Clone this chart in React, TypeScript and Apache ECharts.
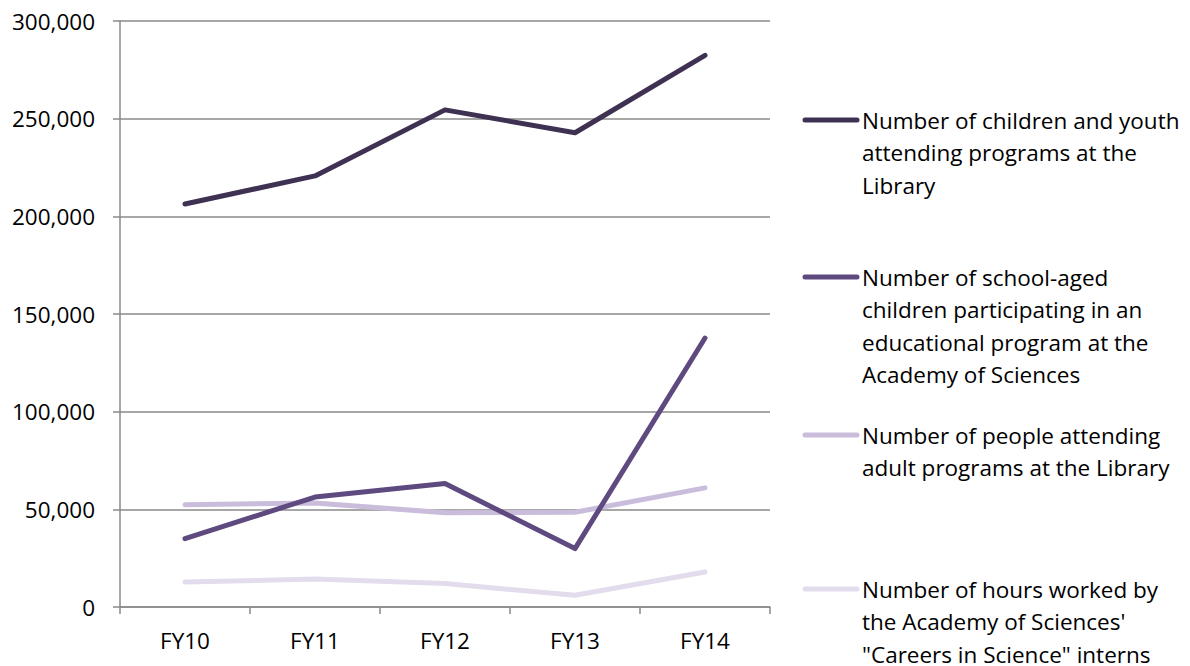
import React, { useEffect, useRef } from "react";
import * as echarts from "echarts";

const categories = ["FY10", "FY11", "FY12", "FY13", "FY14"];
const seriesNames = [
  "Number of children and youth\nattending programs at the\nLibrary",
  "Number of school-aged\nchildren participating in an\neducational program at the\nAcademy of Sciences",
  "Number of people attending\nadult programs at the Library",
  "Number of hours worked by\nthe Academy of Sciences'\n\"Careers in Science\" interns",
];
const childrenYouthLibrary = [206300, 220700, 254500, 242800, 282400];
const schoolAgedAcademy = [35000, 56300, 63200, 29900, 137700];
const adultLibrary = [52400, 53200, 48300, 48500, 61000];
const internHours = [12800, 14300, 12000, 6000, 17900];
const seriesValues = [childrenYouthLibrary, schoolAgedAcademy, adultLibrary, internHours];
const colors = ["#3f3152", "#5f4a80", "#c9bddb", "#e3dcec"];
const legendY = [120, 277, 435, 589];

const FONT = "'Open Sans', sans-serif";
const FS = 22.5;
const LH = 32.5;

export default function App() {
  const ref = useRef<HTMLDivElement>(null);
  useEffect(() => {
    if (!ref.current) return;
    const chart = echarts.init(ref.current, null, { renderer: "svg" });
    const graphic: any[] = [];
    seriesNames.forEach((name, i) => {
      graphic.push({
        type: "line",
        shape: { x1: 805, y1: legendY[i], x2: 857, y2: legendY[i] },
        style: { stroke: colors[i], lineWidth: 5, lineCap: "round" },
      });
      name.split("\n").forEach((line, j) => {
        graphic.push({
          type: "text",
          x: 862,
          y: legendY[i] + j * LH,
          style: {
            text: line,
            font: `${FS}px ${FONT}`,
            fill: "#000",
            textVerticalAlign: "middle",
          },
        });
      });
    });
    chart.setOption({
      animation: false,
      grid: { left: 120, right: 420, top: 21, bottom: 59, containLabel: false },
      xAxis: {
        type: "category",
        data: categories,
        boundaryGap: true,
        axisLine: { lineStyle: { color: "#8a8a8a", width: 1.5 } },
        axisTick: { show: true, length: 7, alignWithLabel: false, lineStyle: { color: "#8a8a8a", width: 1.5 } },
        axisLabel: { color: "#000", fontSize: FS, fontFamily: FONT, margin: 22 },
      },
      yAxis: {
        type: "value",
        min: 0,
        max: 300000,
        interval: 50000,
        axisLine: { show: true, lineStyle: { color: "#8a8a8a", width: 1.5 } },
        axisTick: { show: true, length: 7, lineStyle: { color: "#8a8a8a", width: 1.5 } },
        splitLine: { lineStyle: { color: "#8a8a8a", width: 1.5 } },
        axisLabel: {
          color: "#000",
          fontSize: FS,
          fontFamily: FONT,
          margin: 25,
          formatter: (v: number) => v.toLocaleString("en-US"),
        },
      },
      series: seriesValues.map((vals, i) => ({
        type: "line",
        name: seriesNames[i],
        data: vals,
        showSymbol: false,
        symbol: "none",
        lineStyle: { color: colors[i], width: 5, cap: "round", join: "round" },
        z: 10 - i,
      })),
      graphic,
    });
    return () => chart.dispose();
  }, []);
  return <div ref={ref} style={{ width: 1190, height: 666, position: "absolute", left: 0, top: 0 }} />;
}
